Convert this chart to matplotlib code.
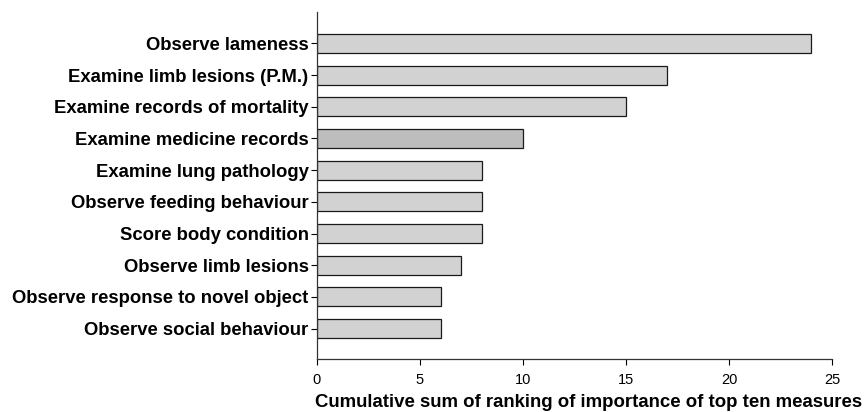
import matplotlib
matplotlib.use("Agg")
import matplotlib.pyplot as plt

categories = [
    "Observe lameness",
    "Examine limb lesions (P.M.)",
    "Examine records of mortality",
    "Examine medicine records",
    "Examine lung pathology",
    "Observe feeding behaviour",
    "Score body condition",
    "Observe limb lesions",
    "Observe response to novel object",
    "Observe social behaviour",
]
values = [24, 17, 15, 10, 8, 8, 8, 7, 6, 6]
xticks = [0, 5, 10, 15, 20, 25]
xlabel = "Cumulative sum of ranking of importance of top ten measures"

plt.rcParams['font.family'] = ['Liberation Sans', 'DejaVu Sans']

fig = plt.figure(figsize=(8.66, 4.12), dpi=100)
ax = fig.add_axes([0.366, 0.1286, 0.5947, 0.8423])

n = len(categories)
pos = list(range(n - 1, -1, -1))
colors = ['#d2d2d2'] * n
colors[3] = '#bdbdbd'
ax.barh(pos, values, height=0.6, color=colors, edgecolor='#1a1a1a', linewidth=0.9)

ax.set_yticks(pos)
ax.set_yticklabels(categories, fontsize=13.3, fontweight='bold')
ax.set_xticks(xticks)
ax.set_xticklabels([str(t) for t in xticks], fontsize=10.5)
ax.set_xlim(0, 25)
ax.set_ylim(-0.96, n - 0.01)
ax.set_xlabel(xlabel, fontsize=13.4, fontweight='bold')
ax.xaxis.set_label_coords(0.528, -0.1)

for s in ['top', 'right']:
    ax.spines[s].set_visible(False)
for s in ['left', 'bottom']:
    ax.spines[s].set_color('#333333')
    ax.spines[s].set_linewidth(0.9)
ax.tick_params(axis='y', length=4, width=0.8, pad=2)
ax.tick_params(axis='x', length=4, width=0.8, pad=6)

fig.savefig("out.png", dpi=100)
